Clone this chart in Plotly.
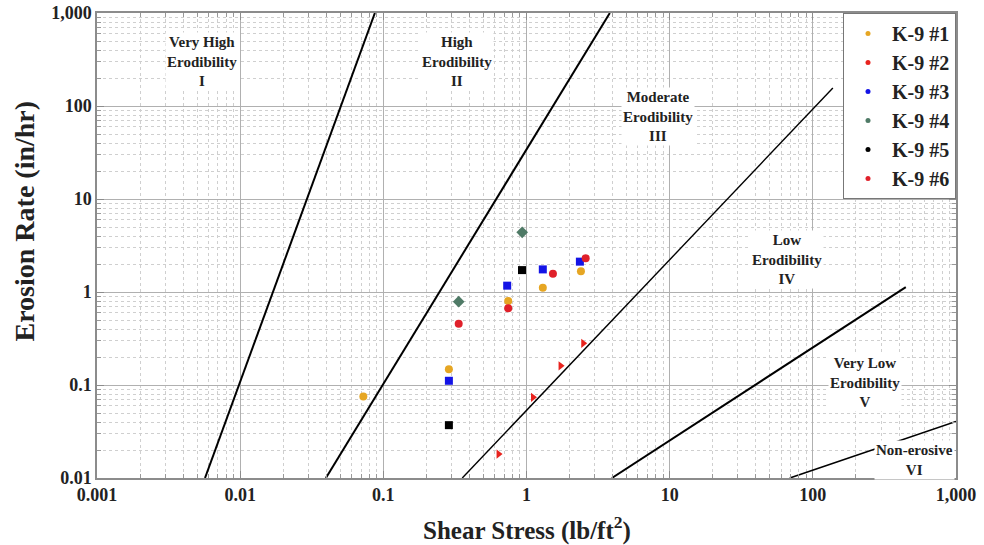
import math
import plotly.graph_objects as go

# ---- data ----
series_names = ["K-9 #1", "K-9 #2", "K-9 #3", "K-9 #4", "K-9 #5", "K-9 #6"]
k1_x = [0.0725, 0.287, 0.745, 1.30, 2.40]
k1_y = [0.075, 0.148, 0.80, 1.11, 1.67]
k2_x = [0.638, 1.11, 1.73, 2.49]
k2_y = [0.0181, 0.0738, 0.161, 0.281]
k3_x = [0.287, 0.733, 1.30, 2.36]
k3_y = [0.111, 1.17, 1.75, 2.12]
k4_x = [0.336, 0.933]
k4_y = [0.787, 4.38]
k5_x = [0.287, 0.93]
k5_y = [0.037, 1.72]
k6_x = [0.336, 0.745, 1.53, 2.59]
k6_y = [0.456, 0.668, 1.57, 2.30]

# erodibility category boundaries (endpoints)
bound_I_x = [0.00568, 0.0873]
bound_I_y = [0.01, 1000]
bound_II_x = [0.0397, 3.82]
bound_II_y = [0.01, 1000]
bound_III_x = [0.356, 138]
bound_III_y = [0.01, 156]
bound_IV_x = [3.95, 446]
bound_IV_y = [0.01, 1.13]
bound_V_x = [69, 1000]
bound_V_y = [0.01, 0.0405]

region_labels = ["Very High<br>Erodibility<br>I", "High<br>Erodibility<br>II",
                 "Moderate<br>Erodibility<br>III", "Low<br>Erodibility<br>IV",
                 "Very Low<br>Erodibility<br>V", "Non-erosive<br>VI"]
region_x = [0.00538, 0.325, 8.28, 65.8, 231, 515]
region_y = [300, 300, 78, 2.25, 0.107, 0.0156]

x_tickvals = [0.001, 0.01, 0.1, 1, 10, 100, 1000]
x_ticktext = ["0.001", "0.01", "0.1", "1", "10", "100", "1,000"]
y_tickvals = [0.01, 0.1, 1, 10, 100, 1000]
y_ticktext = ["0.01", "0.1", "1", "10", "100", "1,000"]

x_title = "Shear Stress (lb/ft<sup>2</sup>)"
y_title = "Erosion Rate (in/hr)"

FONT = "Liberation Serif"

fig = go.Figure()

bounds = [(bound_I_x, bound_I_y, 2), (bound_II_x, bound_II_y, 2),
          (bound_III_x, bound_III_y, 1.4), (bound_IV_x, bound_IV_y, 2),
          (bound_V_x, bound_V_y, 1.6)]
for bx, by, w in bounds:
    fig.add_trace(go.Scatter(x=bx, y=by, mode="lines", line=dict(color="black", width=w),
                             showlegend=False, hoverinfo="skip"))

colors = ["#E6A623", "#E8231E", "#1414E6", "#4F7A66", "#000000", "#E0202A"]
symbols = ["circle", "triangle-right", "square", "diamond", "square", "circle"]
sizes = [8, 8, 8, 9, 8, 8]
xs = [k1_x, k2_x, k3_x, k4_x, k5_x, k6_x]
ys = [k1_y, k2_y, k3_y, k4_y, k5_y, k6_y]
for name, c, s, sz, x, y in zip(series_names, colors, symbols, sizes, xs, ys):
    fig.add_trace(go.Scatter(x=x, y=y, mode="markers", name=name,
                             marker=dict(color=c, symbol=s, size=sz),
                             showlegend=False))
for name, c in zip(series_names, colors):
    fig.add_trace(go.Scatter(x=[None], y=[None], mode="markers", name="<b>" + name + "</b>",
                             marker=dict(color=c, symbol="circle", size=5)))

for txt, x, y in zip(region_labels, region_x, region_y):
    fig.add_annotation(x=math.log10(x), y=math.log10(y), xref="x", yref="y",
                       text="<b>" + txt + "</b>", showarrow=False,
                       font=dict(family=FONT, size=15, color="#222"),
                       bgcolor="white", align="center",
                       xanchor="center", yanchor="middle")

# axis titles
fig.add_annotation(x=0.5, y=0, xref="paper", yref="paper", text="<b>" + x_title + "</b>",
                   showarrow=False, xanchor="center", yanchor="middle", yshift=-50,
                   font=dict(family=FONT, size=25, color="#222"))
fig.add_annotation(x=0, y=0.5, xref="paper", yref="paper", text="<b>" + y_title + "</b>",
                   showarrow=False, xanchor="center", yanchor="middle", xshift=-73,
                   yshift=24, textangle=-90,
                   font=dict(family=FONT, size=28, color="#222"))

axis_common = dict(type="log", showline=True, linecolor="#8c8c8c", linewidth=1.5,
                   mirror="ticks", ticks="inside", ticklen=7, tickcolor="#8c8c8c",
                   showgrid=True, gridcolor="#b0b0b0", gridwidth=1,
                   zeroline=False, automargin=False,
                   tickfont=dict(family=FONT, size=18, color="#222", weight="bold"),
                   minor=dict(dtick="D1", ticks="inside", ticklen=4, tickcolor="#999",
                              showgrid=True, gridcolor="#cfcfcf", griddash="dot"))

fig.update_layout(
    width=984, height=545,
    margin=dict(l=97, r=28, t=13, b=67),
    plot_bgcolor="white", paper_bgcolor="white",
    xaxis=dict(range=[-3, 3], tickvals=x_tickvals, ticktext=x_ticktext, **axis_common),
    yaxis=dict(range=[-2, 3], tickvals=y_tickvals, ticktext=y_ticktext, **axis_common),
    legend=dict(x=1.0, y=1.0, xanchor="right", yanchor="top",
                bgcolor="white", bordercolor="#777", borderwidth=1,
                font=dict(family=FONT, size=20, color="#222"),
                itemwidth=38),
    showlegend=True,
)

fig.write_html("out.html")
